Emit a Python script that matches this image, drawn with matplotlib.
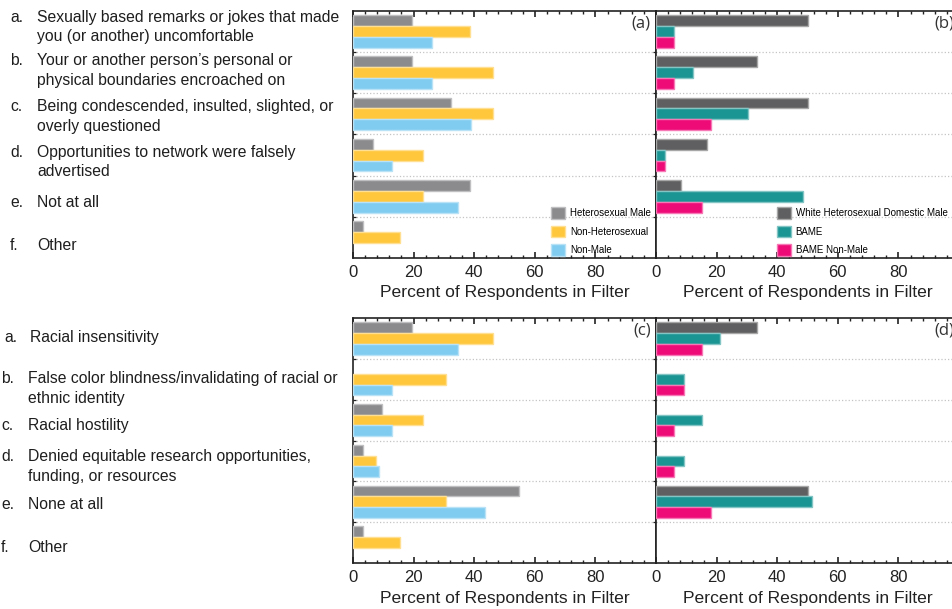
import numpy as np
import matplotlib
matplotlib.use("Agg")
import matplotlib.pyplot as plt
from matplotlib.ticker import MultipleLocator
from matplotlib.colors import to_rgb

plt.rcParams['font.family'] = ['Liberation Sans', 'DejaVu Sans']

# question items (left side text)
letters = ['a.', 'b.', 'c.', 'd.', 'e.', 'f.']
items_top = ['Sexually based remarks or jokes that made\nyou (or another) uncomfortable',
             'Your or another person\u2019s personal or\nphysical boundaries encroached on',
             'Being condescended, insulted, slighted, or\noverly questioned',
             'Opportunities to network were falsely\nadvertised',
             'Not at all',
             'Other']
items_bottom = ['Racial insensitivity',
                'False color blindness/invalidating of racial or\nethnic identity',
                'Racial hostility',
                'Denied equitable research opportunities,\nfunding, or resources',
                'None at all',
                'Other']

# series labels
labels_left = ['Heterosexual Male', 'Non-Heterosexual', 'Non-Male']
labels_right = ['White Heterosexual Domestic Male', 'BAME', 'BAME Non-Male']

# panel (a)
hm_a = [19.4, 19.4, 32.3, 6.5, 38.7, 3.2]
nh_a = [38.5, 46.2, 46.2, 23.1, 23.1, 15.4]
nm_a = [26.1, 26.1, 39.1, 13.0, 34.8, 0]
# panel (b)
whdm_b = [50.0, 33.3, 50.0, 16.7, 8.3, 0]
bame_b = [6.1, 12.1, 30.3, 3.0, 48.5, 0]
bnm_b = [6.1, 6.1, 18.2, 3.0, 15.2, 0]
# panel (c)
hm_c = [19.4, 0, 9.7, 3.2, 54.8, 3.2]
nh_c = [46.2, 30.8, 23.1, 7.7, 30.8, 15.4]
nm_c = [34.8, 13.0, 13.0, 8.7, 43.5, 0]
# panel (d)
whdm_d = [33.3, 0, 0, 0, 50.0, 0]
bame_d = [21.2, 9.1, 15.2, 9.1, 51.5, 0]
bnm_d = [15.2, 9.1, 6.1, 6.1, 18.2, 0]

colors_left = ['#8b8b8e', '#ffc73b', '#80cbf0']
colors_right = ['#5f5f61', '#1b9594', '#ee0b78']


def lighter(c, f=0.45):
    r, g, b = to_rgb(c)
    return (r + (1 - r) * f, g + (1 - g) * f, b + (1 - b) * f)


W, H = 953, 609
fig = plt.figure(figsize=(W / 100, H / 100), dpi=100)


def px_axes(x0, y0, x1, y1):
    return fig.add_axes([x0 / W, 1 - y1 / H, (x1 - x0) / W, (y1 - y0) / H])


def draw_panel(ax, series, colors, labels, tag, right):
    h = 0.265
    for k, (vals, col, lab) in enumerate(zip(series, colors, labels)):
        vals = np.asarray(vals, dtype=float)
        idx = np.nonzero(vals)[0]
        ax.barh(idx + (k - 1) * h, vals[idx], height=h, color=col,
                edgecolor=lighter(col), linewidth=1.0, label=lab, zorder=3)
    ax.set_xlim(0, 100)
    ax.set_ylim(5.5, -0.5)
    ax.set_yticks(np.arange(0.5, 5, 1))
    ax.set_yticklabels([])
    ax.yaxis.grid(True, linestyle=':', color='#c4c4c4', linewidth=0.9)
    ax.set_axisbelow(True)
    ax.set_xticks([0, 20, 40, 60, 80])
    ax.xaxis.set_minor_locator(MultipleLocator(4))
    ax.tick_params(axis='x', which='both', direction='in', top=True, bottom=True,
                   labelsize=12, pad=5, color='#222222', labelcolor='#222222')
    ax.tick_params(axis='x', which='major', length=4.5, width=1.2)
    ax.tick_params(axis='x', which='minor', length=2.2, width=1.0)
    ax.tick_params(axis='y', which='major', direction='out' if right else 'in',
                   length=2.5, width=0.9, color='#222222', right=False)
    for s in ax.spines.values():
        s.set_linewidth(1.2)
        s.set_color('#222222')
    ax.set_xlabel('Percent of Respondents in Filter', fontsize=12.6, labelpad=4,
                  color='#222222')
    ax.text(0.983 if not right else 0.985, 0.95, tag, transform=ax.transAxes,
            ha='right', va='center', fontsize=12, family=['Open Sans', 'DejaVu Sans'],
            color='#333333')


ax_a = px_axes(353, 11, 656, 258)
ax_b = px_axes(656, 11, 959, 258)
ax_c = px_axes(353, 318, 656, 563)
ax_d = px_axes(656, 318, 959, 563)

draw_panel(ax_a, [hm_a, nh_a, nm_a], colors_left, labels_left, '(a)', False)
draw_panel(ax_b, [whdm_b, bame_b, bnm_b], colors_right, labels_right, '(b)', True)
draw_panel(ax_c, [hm_c, nh_c, nm_c], colors_left, labels_left, '(c)', False)
draw_panel(ax_d, [whdm_d, bame_d, bnm_d], colors_right, labels_right, '(d)', True)

leg_kw = dict(loc='upper left', frameon=False, fontsize=7, handlelength=1.4,
              handleheight=1.4, labelspacing=0.75, handletextpad=0.5,
              borderpad=0, borderaxespad=0)
ax_a.legend(bbox_to_anchor=(0.655, 0.205), **leg_kw)
ax_b.legend(bbox_to_anchor=(0.40, 0.205), **leg_kw)


def put_item(lx, tx, yy, let, txt):
    # yy = centre of first line in px from top; one text per line
    fig.text(lx / W, 1 - (yy + 5) / H, let, ha='left', va='baseline',
             fontsize=11.3, color='#1e1e1e')
    for j, line in enumerate(txt.split('\n')):
        fig.text(tx / W, 1 - (yy + 5 + 19.5 * j) / H, line, ha='left',
                 va='baseline', fontsize=11.3, color='#1e1e1e')


top_y = [17, 60, 106, 152, 202, 245]
for let, txt, yy in zip(letters, items_top, top_y):
    put_item(10, 37, yy, let, txt)

bot_y = [337, 378, 425, 456, 504, 547]
for i, (let, txt, yy) in enumerate(zip(letters, items_bottom, bot_y)):
    put_item(4 if i == 0 else 1, 30 if i == 0 else 28, yy, let, txt)

fig.savefig('out.png', dpi=100)
